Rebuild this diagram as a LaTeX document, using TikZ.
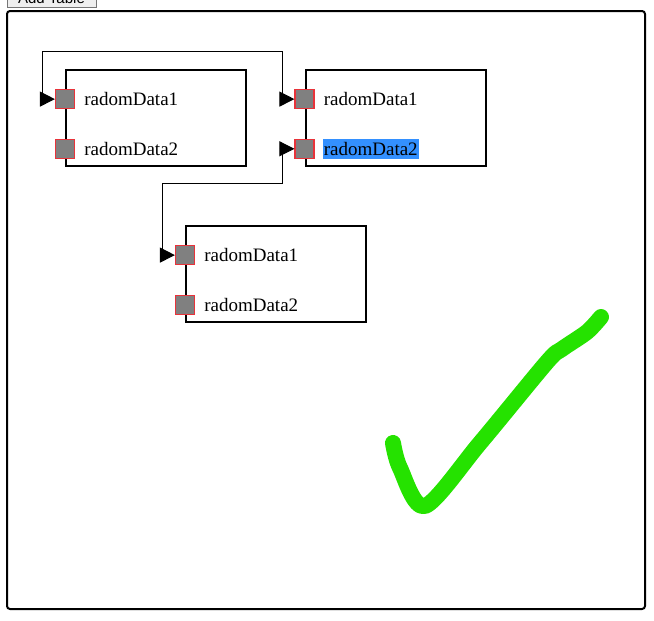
\documentclass[tikz,border=0pt]{standalone}
\usepackage{fontspec}
\setmainfont{Liberation Serif}
\newfontfamily\btnfont{Liberation Sans}
\usetikzlibrary{arrows.meta, positioning}
\definecolor{portgray}{HTML}{808080}
\definecolor{portred}{HTML}{E8333A}
\definecolor{selblue}{HTML}{3390FF}
\definecolor{checkgreen}{HTML}{25E200}
\definecolor{btnfill}{HTML}{EFEFEF}
\definecolor{btnline}{HTML}{767676}

\begin{document}
\begin{tikzpicture}[
  x=1pt, y=-1pt,
  every node/.style={font=\fontsize{19}{22}\selectfont},
  table/.style={rectangle, draw=black, line width=2pt, minimum width=180pt, minimum height=96pt, inner sep=0pt},
  port/.style={rectangle, draw=portred, fill=portgray, line width=1.2pt, minimum size=19pt, inner sep=0pt},
  field/.style={inner sep=0pt, anchor=west},
  conn/.style={{Triangle[length=15pt, width=15pt]}-{Triangle[length=15pt, width=15pt]}, line width=1pt, black},
  check/.style={checkgreen, line width=16pt, line cap=round, line join=round},
]
\useasboundingbox (0,0) rectangle (654,621);

% add table button, cut off at the top
\begin{scope}
\clip (0,0) rectangle (654,621);
\node[draw=btnline, fill=btnfill, minimum width=89pt, minimum height=20pt, inner sep=0pt] (btn) at (51.5,-3) {};
\node[font=\btnfont\fontsize{15}{17}\selectfont, anchor=base, inner sep=0pt] (btntxt) at (51.5,4) {Add Table};
\end{scope}

% frame
\draw[line width=2pt, rounded corners=3pt] (7,11) rectangle (645,609);

% tables
\node[table] (t1) at (156,118) {};
\node[table] (t2) at (395.5,118) {};
\node[table] (t3) at (276,274) {};

\node[port, below=20pt of t1.north west, anchor=north] (p11) {};
\node[port, below=29.5pt of p11] (p12) {};
\node[port, below=20pt of t2.north west, anchor=north] (p21) {};
\node[port, below=29.5pt of p21] (p22) {};
\node[port, below=20pt of t3.north west, anchor=north] (p31) {};
\node[port, below=29.5pt of p31] (p32) {};

\node[field, right=9pt of p11] (f11) {radomData1};
\node[field, right=9pt of p12] (f12) {radomData2};
\node[field, right=9pt of p21] (f21) {radomData1};
\node[field, right=8pt of p22, fill=selblue, inner xsep=1pt, minimum height=20pt] (f22) {radomData2};
\node[field, right=9pt of p31] (f31) {radomData1};
\node[field, right=9pt of p32] (f32) {radomData2};

% links
\coordinate (r1a) at (42,51);
\coordinate (r1b) at (282,51);
\coordinate (r2a) at (282,183);
\coordinate (r2b) at (162,183);
\draw[conn] (p11.west) -| (r1a) -- (r1b) |- (p21.west);
\draw[conn] (p22.west) -| (r2a) -- (r2b) |- (p31.west);

% tick
\draw[check] plot[smooth, tension=0.5] coordinates {(393,443) (400,468) (425,506) (480,443) (547,362) (562,349) (587,332) (601,317)};
\end{tikzpicture}
\end{document}
